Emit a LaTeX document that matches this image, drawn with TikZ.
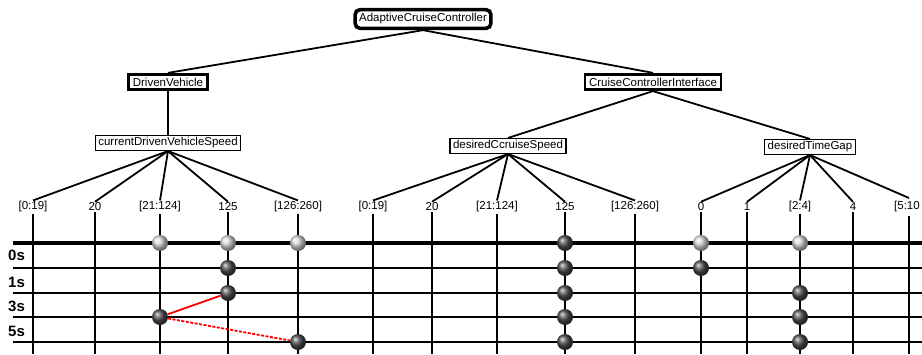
\documentclass[tikz,border=0pt]{standalone}
\usepackage{fontspec}
\setmainfont{Liberation Sans}
\begin{document}
\begin{tikzpicture}[x=1pt,y=-1pt,
    rootbox/.style={draw,line width=3.6pt,rounded corners=5pt,inner xsep=4pt,inner ysep=4pt,font=\fontsize{11.5}{13}\selectfont},
    groupbox/.style={draw,line width=2.8pt,inner xsep=4pt,inner ysep=3.5pt,font=\fontsize{11.5}{13}\selectfont},
    featbox/.style={draw,line width=1.4pt,inner xsep=3pt,inner ysep=2pt,font=\fontsize{11.5}{13}\selectfont},
    value/.style={inner sep=1pt,font=\fontsize{11.5}{13}\selectfont},
    timelabel/.style={anchor=west,inner sep=0pt,font=\fontsize{15}{16}\bfseries\selectfont},
    edge/.style={line width=1.8pt},
    grid/.style={line width=1.8pt},
    lightdot/.style={circle,inner sep=0pt,minimum size=16pt,shading=ball,ball color=gray!30},
    darkdot/.style={circle,inner sep=0pt,minimum size=16pt,shading=ball,ball color=black!70}]
    \useasboundingbox (0,0) rectangle (922,354);
    %% Feature tree
    \node[rootbox] (acc) at (423,19) {AdaptiveCruiseController};
    \node[groupbox] (dv) at (168,82) {DrivenVehicle};
    \node[groupbox] (cci) at (653,82) {CruiseControllerInterface};
    \node[featbox] (speed) at (168,143) {currentDrivenVehicleSpeed};
    \node[featbox] (cruise) at (508,146) {desiredCcruiseSpeed};
    \node[featbox] (gap) at (810,147) {desiredTimeGap};
    \draw[edge] (acc.south) -- (dv.north);
    \draw[edge] (acc.south) -- (cci.north);
    \draw[edge] (dv.south) -- (speed.north);
    \draw[edge] (cci.south) -- (cruise.north);
    \draw[edge] (cci.south) -- (gap.north);
    %% Values
    \node[value] (a1) at (33,207) {[0:19]};
    \node[value] (a2) at (95,207) {20};
    \node[value] (a3) at (160,207) {[21:124]};
    \node[value] (a4) at (228,207) {125};
    \node[value] (a5) at (298,207) {[126:260]};
    \node[value] (b1) at (373,207) {[0:19]};
    \node[value] (b2) at (432,207) {20};
    \node[value] (b3) at (497,207) {[21:124]};
    \node[value] (b4) at (565,207) {125};
    \node[value] (b5) at (635,207) {[126:260]};
    \node[value] (c1) at (701,207) {0};
    \node[value] (c2) at (747,207) {1};
    \node[value] (c3) at (800,207) {[2:4]};
    \node[value] (c4) at (853,207) {4};
    \node[value,anchor=west] (c5) at (893,207) {[5:10};
    \foreach \v in {a1,a2,a3,a4,a5} \draw[edge] (speed.south) -- (\v.north);
    \foreach \v in {b1,b2,b3,b4,b5} \draw[edge] (cruise.south) -- (\v.north);
    \foreach \v in {c1,c2,c3,c4} \draw[edge] (gap.south) -- (\v.north);
    \draw[edge] (gap.south) -- (909,198);
    %% Time grid
    \foreach \v in {a1,a2,a3,a4,a5,b1,b2,b3,b4,b5,c1,c2,c3,c4}
        \draw[grid] (\v.south) -- (\v |- 0,354);
    \draw[grid] (909,216) -- (909,354);
    \coordinate (r0) at (13,243);
    \coordinate (r1) at (13,268);
    \coordinate (r2) at (13,293);
    \coordinate (r3) at (13,317);
    \coordinate (r4) at (13,342);
    \draw[line width=4.5pt] (r0) -- (922,243);
    \foreach \r in {r1,r2,r3,r4} \draw[grid] (\r) -- (\r -| 922,0);
    \node[timelabel] (t0) at (8,255) {0s};
    \node[timelabel] (t1) at (8,282) {1s};
    \node[timelabel] (t3) at (8,306) {3s};
    \node[timelabel] (t5) at (8,331) {5s};
    %% States
    \node[lightdot] (s1) at (a3 |- r0) {};
    \node[lightdot] (s2) at (a4 |- r0) {};
    \node[lightdot] (s3) at (a5 |- r0) {};
    \node[darkdot] (s4) at (a4 |- r1) {};
    \node[darkdot] (s5) at (a4 |- r2) {};
    \node[darkdot] (s6) at (a3 |- r3) {};
    \node[darkdot] (s7) at (a5 |- r4) {};
    \foreach \r in {r0,r1,r2,r3,r4} \node[darkdot] at (b4 |- \r) {};
    \node[lightdot] (g1) at (c1 |- r0) {};
    \node[darkdot] (g2) at (c1 |- r1) {};
    \node[lightdot] (g3) at (c3 |- r0) {};
    \foreach \r in {r2,r3,r4} \node[darkdot] at (c3 |- \r) {};
    %% Transitions
    \draw[red,line width=1.8pt] (s6) -- (s5);
    \draw[red,line width=1.8pt,dash pattern=on 3pt off 1.5pt] (s6) -- (s7);
\end{tikzpicture}
\end{document}
